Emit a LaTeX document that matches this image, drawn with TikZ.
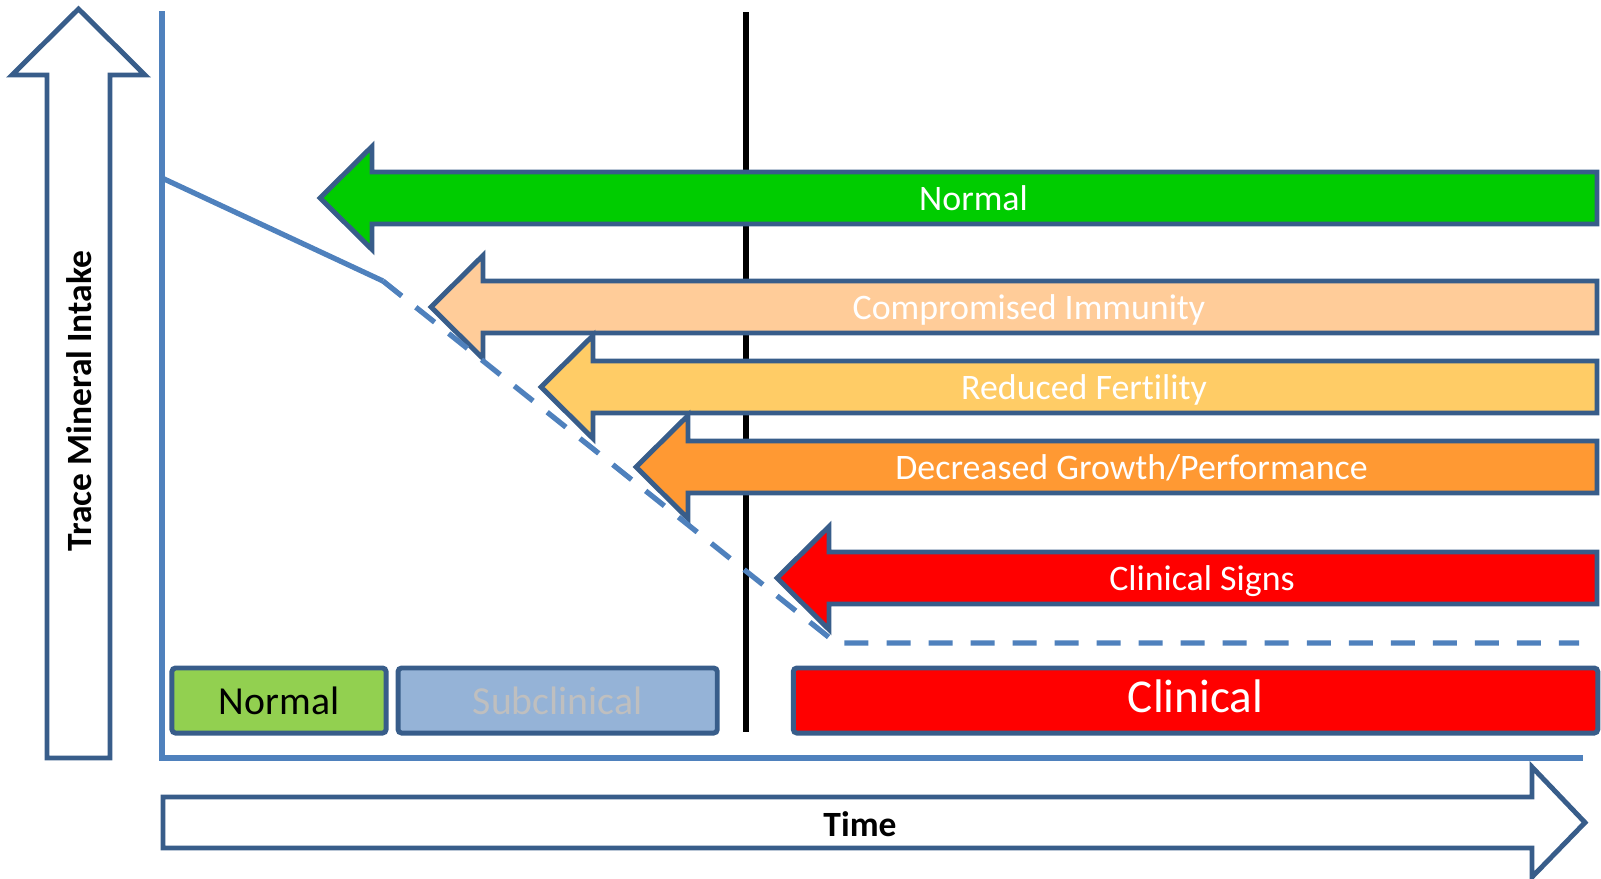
\documentclass[tikz,border=0pt]{standalone}
\usepackage{fontspec}
\setmainfont{Carlito}[Ligatures=CommonOff]
\usetikzlibrary{positioning}
\definecolor{outline}{HTML}{385D8A}
\definecolor{axisblue}{HTML}{4F81BD}
\definecolor{okgreen}{HTML}{00CC00}
\definecolor{peach}{HTML}{FFCC99}
\definecolor{sand}{HTML}{FFCC66}
\definecolor{amber}{HTML}{FF9933}
\definecolor{boxgreen}{HTML}{92D050}
\definecolor{boxblue}{HTML}{95B3D7}
\definecolor{boxgray}{HTML}{BFBFBF}

\begin{document}
\begin{tikzpicture}[x=0.01cm, y=-0.01cm, semithick,
	barrow/.style={draw=outline, line width=1.4pt, line join=miter},
	arrlabel/.style={text=white, inner sep=0pt, text depth=0pt, font=\fontsize{10.2}{12}\selectfont},
	phase/.style={draw=outline, line width=1.4pt, rounded corners=1pt, inner sep=0pt, outer sep=0pt, minimum height=0.65cm, font=\fontsize{11.3}{13}\selectfont},
	axislabel/.style={inner sep=0pt, font=\bfseries\fontsize{10.1}{12}\selectfont},
	axisline/.style={draw=axisblue, line width=1.5pt}]
	\useasboundingbox (0,0) rectangle (1601,878);
	
	% axes
	\draw[barrow, fill=white] (78.5,9) -- (145,75) -- (110,75) -- (110,758) -- (47,758) -- (47,75) -- (12,75) -- cycle;
	\node[axislabel, rotate=90] (ylab) at (79,401) {Trace Mineral Intake};
	\draw[barrow, fill=white] (163,797) -- (1532,797) -- (1532,767) -- (1585,822.5) -- (1532,877) -- (1532,848) -- (163,848) -- cycle;
	\node[axislabel] (tlab) at (860,824) {Time};
	\draw[axisline] (162,11) -- (162,758) -- (1583,758);
	
	% threshold
	\coordinate (thtop) at (746,12);
	\coordinate (thbot) at (746,732);
	\draw[line width=1.6pt] (thtop) -- (thbot);
	
	% effect arrows
	\foreach \tx/\ty/\col/\lab/\nm in {320/198/okgreen/Normal/lbnormal,
		431/307/peach/Compromised Immunity/lbimmune,
		541/387/sand/Reduced Fertility/lbfertile,
		636/467/amber/Decreased Growth\slash Performance/lbgrowth,
		777/578/red/Clinical Signs/lbsigns}{
		\draw[barrow, fill=\col] (\tx,\ty) -- ++(52,-51.5) -- ++(0,25.5) -- (1597,\ty-26) -- ++(0,52) -- (\tx+52,\ty+26) -- ++(0,25.5) -- cycle;
		\node[arrlabel] (\nm) at ({(\tx+1627)/2},\ty) {\lab};
	}
	
	% intake line
	\coordinate (start) at (162,178);
	\coordinate (bend) at (383,281);
	\coordinate (floor) at (836,643);
	\coordinate (stop) at (1579,643);
	\draw[axisline] (start) -- (bend);
	\draw[axisline, dash pattern=on 0.24cm off 0.18cm] (bend) -- (floor) -- (stop);
	
	% phases
	\node[phase, fill=boxgreen, minimum width=2.14cm] (normbox) at (279,700.5) {Normal};
	\node[phase, fill=boxblue, text=boxgray, minimum width=3.19cm, right=0.12cm of normbox] (subbox) {Subclinical};
	\node[phase, fill=red, text=white, minimum width=8.04cm, text depth=0.08cm, font=\fontsize{13.4}{16}\selectfont, right=0.76cm of subbox] (clinbox) {Clinical};
	
\end{tikzpicture}
\end{document}
